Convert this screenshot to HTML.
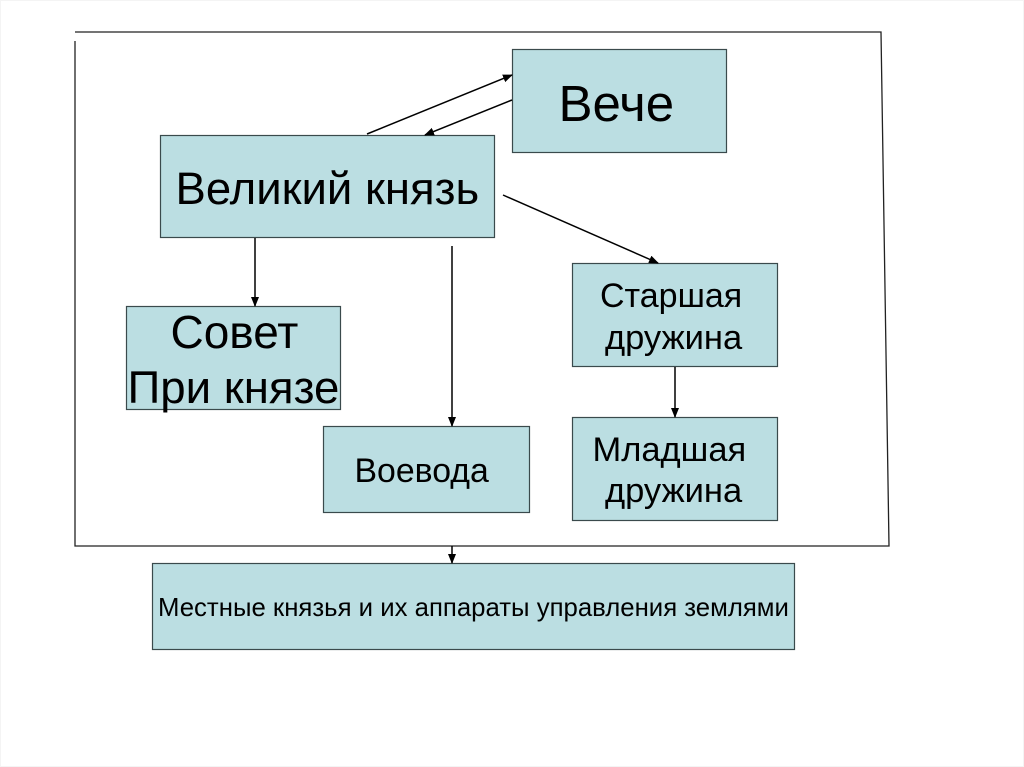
<!DOCTYPE html>
<html><head><meta charset="utf-8"><style>
html,body{margin:0;padding:0;background:#fff}
svg{display:block}
text{font-family:"Liberation Sans",sans-serif;fill:#000}
</style></head><body>
<svg width="1024" height="767" viewBox="0 0 1024 767" xmlns="http://www.w3.org/2000/svg">
<defs>
<marker id="a" markerWidth="10" markerHeight="10" refX="9" refY="4" orient="auto" markerUnits="userSpaceOnUse"><path d="M0 0L10 4L0 8z" fill="#000"/></marker>
</defs>
<rect x="0.5" y="0.5" width="1023" height="766" fill="#fff" stroke="#f4f4f4"/>
<path d="M75 32H881L889 546H75V41" fill="none" stroke="#222" stroke-width="1.300"/>
<g fill="#bbdee2" stroke="#3a4a4c" stroke-width="1.200">
<rect x="512.500" y="49.500" width="214" height="103"/>
<rect x="160.500" y="135.500" width="334" height="102"/>
<rect x="572.500" y="263.500" width="205" height="103"/>
<rect x="126.500" y="306.500" width="214" height="103"/>
<rect x="323.500" y="426.500" width="206" height="86"/>
<rect x="572.500" y="417.500" width="205" height="103"/>
<rect x="152.500" y="563.500" width="642" height="86"/>
</g>
<g stroke="#000" stroke-width="1.500" fill="none">
<line x1="367" y1="134" x2="512" y2="75" marker-end="url(#a)"/>
<line x1="512" y1="100" x2="425" y2="135" marker-end="url(#a)"/>
<line x1="503" y1="195" x2="658" y2="263" marker-end="url(#a)"/>
<line x1="255" y1="238" x2="255" y2="306" marker-end="url(#a)"/>
<line x1="452" y1="246" x2="452" y2="426" marker-end="url(#a)"/>
<line x1="675" y1="367" x2="675" y2="417" marker-end="url(#a)"/>
<line x1="452" y1="546" x2="452" y2="563" marker-end="url(#a)"/>
</g>
<text x="558.500" y="121" font-size="51">Вече</text>
<text x="175.500" y="204" font-size="45.500">Великий князь</text>
<text x="600" y="307" font-size="34">Старшая</text>
<text x="605" y="349" font-size="34.500">дружина</text>
<text x="170.500" y="348" font-size="46">Совет</text>
<text x="127.500" y="403" font-size="45.600">При князе</text>
<text x="354.500" y="482" font-size="33.800">Воевода</text>
<text x="592.500" y="461" font-size="34.500">Младшая</text>
<text x="605" y="502" font-size="34.500">дружина</text>
<text x="158" y="616" font-size="25.750">Местные князья и их аппараты управления землями</text>
</svg>
</body></html>
